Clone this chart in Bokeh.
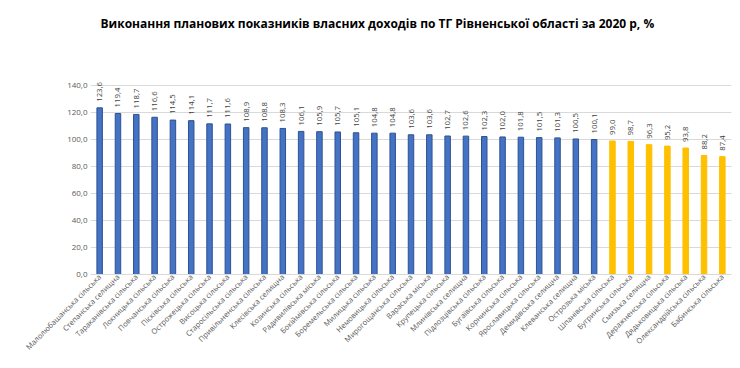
from math import pi
from bokeh.plotting import figure
from bokeh.models import ColumnDataSource, FactorRange, FixedTicker, Range1d
from bokeh.core.properties import value
from bokeh.embed import file_html
from bokeh.resources import INLINE

names = [
    "Малолюбашанська сільська", "Степанська селищна", "Тараканівська сільська",
    "Локницька сільська", "Повчанська сільська", "Пісківська сільська",
    "Острожецька сільська", "Висоцька сільська", "Старосільська сільська",
    "Привільненська сільська", "Клесівська селищна", "Козинська сільська",
    "Радивилівська міська", "Бокіймівська сільська", "Боремельська сільська",
    "Милицька сільська", "Немовицька сільська", "Мирогощанська сільська",
    "Вараська міська", "Крупецька сільська", "Млинівська селищна",
    "Підлозцівська сільська", "Бугаївська сільська", "Корнинська сільська",
    "Ярославицька сільська", "Демидівська селищна", "Клеванська селищна",
    "Острозька міська", "Шпанівська сільська", "Бугринська сільська",
    "Смизька селищна", "Деражненська сільська", "Дядьковицька сільська",
    "Олександрійська сільська", "Бабинська сільська",
]
values = [
    123.6, 119.4, 118.7, 116.6, 114.5, 114.1, 111.7, 111.6, 108.9, 108.8,
    108.3, 106.1, 105.9, 105.7, 105.1, 104.8, 104.8, 103.6, 103.6, 102.7,
    102.6, 102.3, 102.0, 101.8, 101.5, 101.3, 100.5, 100.1, 99.0, 98.7,
    96.3, 95.2, 93.8, 88.2, 87.4,
]
y_ticks = [0, 20, 40, 60, 80, 100, 120, 140]

fill = ["#4472C4" if v >= 100 else "#FFC000" for v in values]
line = ["#2F528F" if v >= 100 else "#FFC000" for v in values]
labels = [f"{v:.1f}".replace(".", ",") for v in values]

src = ColumnDataSource(dict(x=names, y=values, fill=fill, line=line, lab=labels))

p = figure(
    frame_width=641, frame_height=236, output_backend="svg", toolbar_location=None,
    x_range=FactorRange(*names, range_padding=0.0),
    y_range=Range1d(0, 175),
    title="Виконання планових показників  власних доходів по ТГ Рівненської області за 2020 р, %",
    min_border_left=90, min_border_right=1, min_border_bottom=0, min_border_top=38,
)
p.title.align = "left"
p.title.vertical_align = "top"
p.title.offset = 10
p.title.standoff = 10
p.title.text_font = "Open Sans"
p.title.text_font_style = "bold"
p.title.text_font_size = "12px"
p.title.text_color = "#000000"

p.vbar(x="x", top="y", width=0.3, fill_color="fill", line_color="line",
       line_width=1, source=src)
p.text(x="x", y="y", text="lab", angle=pi / 2, y_offset=-6,
       text_align="left", text_baseline="middle", text_font_size="7.8px",
       text_font=value("Open Sans"), text_color="#404040", source=src)

p.outline_line_color = None
p.xgrid.grid_line_color = None
p.ygrid.ticker = FixedTicker(ticks=y_ticks)
p.ygrid.grid_line_color = "#D9D9D9"

p.yaxis.ticker = FixedTicker(ticks=y_ticks)
p.yaxis.major_label_overrides = {t: f"{t:.1f}".replace(".", ",") for t in y_ticks}
p.yaxis.axis_line_color = None
p.yaxis.major_tick_line_color = None
p.yaxis.major_tick_out = 0
p.yaxis.minor_tick_line_color = None
p.yaxis.minor_tick_out = 0
p.yaxis.major_label_text_font_size = "8px"
p.yaxis.major_label_text_color = "#595959"
p.yaxis.major_label_text_font = "Open Sans"
p.yaxis.major_label_standoff = 3

p.xaxis.axis_line_color = "#D9D9D9"
p.xaxis.major_tick_line_color = None
p.xaxis.major_tick_out = 0
p.xaxis.major_label_orientation = pi / 4
p.xaxis.major_label_text_font_size = "7.5px"
p.xaxis.major_label_text_color = "#595959"
p.xaxis.major_label_text_font = "Open Sans"
p.xaxis.major_label_standoff = 1

open("out.html", "w").write(file_html(p, INLINE))
